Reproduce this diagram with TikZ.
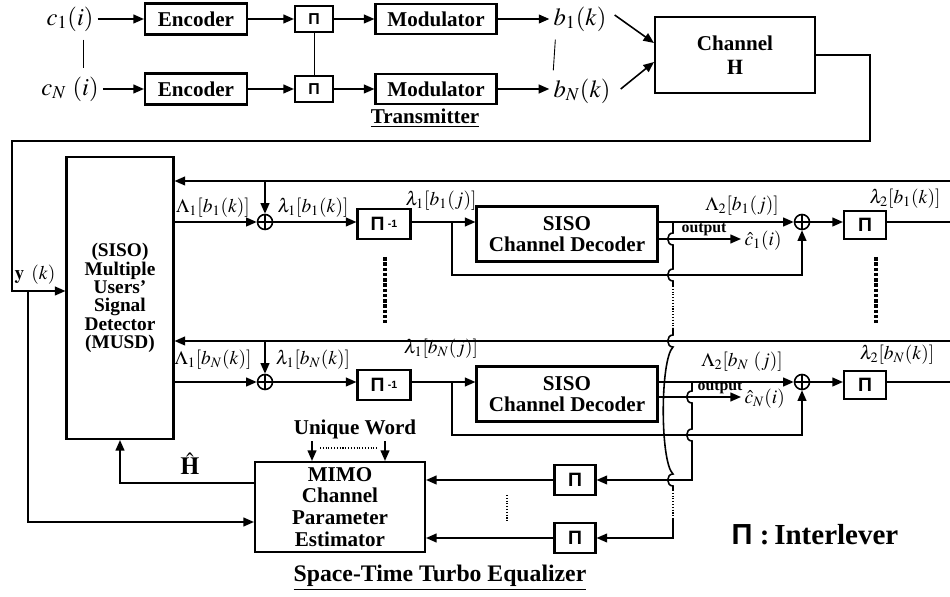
\documentclass[tikz,border=0pt]{standalone}
\usepackage{mathptmx}
\usepackage{fontspec}
\setmainfont{Liberation Serif}
\newfontfamily\pifont{Liberation Sans}
\usepackage{tikz}
\usetikzlibrary{arrows.meta, positioning, calc}

\newcommand{\ilv}{{\pifont\bfseries Π}}
\newcommand{\ilvinv}{{\pifont\bfseries Π}\,\raisebox{2pt}{\pifont\bfseries\fontsize{6}{6}\selectfont -1}}

\begin{document}
\begin{tikzpicture}[
    x=0.02cm, y=-0.02cm, line width=0.9pt,
    >={Triangle[length=6pt,width=5pt]},
    box/.style={draw, line width=1.2pt, align=center, inner sep=1pt,
                font=\fontsize{12}{14}\selectfont\bfseries},
    coderbox/.style={box, minimum width=2.04cm, minimum height=0.62cm},
    modbox/.style={box, minimum width=2.42cm, minimum height=0.6cm},
    tpi/.style={box, minimum width=0.76cm, minimum height=0.52cm, font=\fontsize{9}{9}\selectfont},
    rpi/.style={box, minimum width=0.84cm, minimum height=0.56cm, font=\fontsize{11}{11}\selectfont},
    invbox/.style={box, minimum width=1.06cm, minimum height=0.6cm, font=\fontsize{11}{11}\selectfont},
    decbox/.style={box, minimum width=3.62cm, minimum height=1.1cm, font=\fontsize{12}{12.3}\selectfont\bfseries},
    adder/.style={circle, draw, minimum size=0.3cm, inner sep=0pt,
                  path picture={\draw (path picture bounding box.north) -- (path picture bounding box.south)
                                      (path picture bounding box.west) -- (path picture bounding box.east);}},
    sig/.style={inner sep=2pt, font=\fontsize{14}{16}\selectfont},
    lbl/.style={inner sep=1pt, font=\fontsize{11}{12}\selectfont},
    outlbl/.style={inner sep=0pt, font=\fontsize{9}{9}\selectfont\bfseries},
    title/.style={inner sep=1pt, font=\fontsize{12}{14}\selectfont\bfseries},
    dots/.style={densely dotted, line width=2pt},
    thindots/.style={densely dotted, line width=0.6pt}
]
    \useasboundingbox (0,0) rectangle (950,597);

    % transmitter
    \node[sig] (c1) at (70,19) {$c_1(i)$};
    \node[sig] (cN) at (70,89) {$c_N\ (i)$};
    \node[coderbox] (enc1) at (196,19) {Encoder};
    \node[coderbox] (encN) at (196,89) {Encoder};
    \node[tpi] (pi1) at (314,19) {\ilv};
    \node[tpi] (piN) at (314,89) {\ilv};
    \node[modbox] (mod1) at (436,19) {Modulator};
    \node[modbox] (modN) at (436,89) {Modulator};
    \node[sig] (b1) at (580,19) {$b_1(k)$};
    \node[sig] (bN) at (582,91) {$b_N(k)$};
    \node[box, minimum width=3.2cm, minimum height=1.52cm, font=\fontsize{12}{14}\selectfont\bfseries] (chan) at (735,55) {Channel\\ $\mathbf{H}$};
    \node[title] (tx) at (425,118) {\underline{Transmitter}};

    \draw[->] (c1) -- (enc1);
    \draw[->] (cN) -- (encN);
    \draw[->] (enc1) -- (pi1);
    \draw[->] (encN) -- (piN);
    \draw[->] (pi1) -- (mod1);
    \draw[->] (piN) -- (modN);
    \draw[->] (mod1) -- (b1);
    \draw[->] (modN) -- (modN -| bN.west);
    \draw[line width=0.5pt] ($(c1.south)+(13,4)$) -- ($(cN.north)+(13,-4)$);
    \draw[line width=0.5pt] (pi1.south) -- (piN.north);
    \draw[line width=0.5pt] ($(b1.south west)+(6,4)$) -- ($(bN.north west)+(4,-4)$);
    \draw[->] ($(b1.east)+(4,-4)$) -- ($(chan.west)+(0,-12)$);
    \draw[->] ($(bN.east)+(6,-2)$) -- ($(chan.west)+(0,7)$);

    % received signal
    \coordinate (yk) at (12,291);
    \coordinate (ysplit) at (28,291);
    \node[box, minimum width=2.14cm, minimum height=5.64cm, font=\fontsize{11}{10.4}\selectfont\bfseries] (musd) at (120,298)
        {(SISO)\\Multiple\\Users'\\Signal\\Detector\\(MUSD)};
    \node[lbl] (ylab) at (35,275) {$\mathbf{y}\ \,(k)$};
    \draw[->] (chan.east) -| (870,141) -| (yk) -- (yk -| musd.west);

    % user 1
    \coordinate (fb1) at (958,181);
    \node[adder] (add1) at (265,222) {};
    \node[invbox] (pinv1) at (384,224) {\ilvinv};
    \node[decbox] (dec1) at (567,234) {SISO\\Channel Decoder};
    \node[adder] (add2) at (802,222) {};
    \node[rpi] (pi2) at (865,225) {\ilv};
    \coordinate (br1) at (452,222);
    \coordinate (o1) at (741,239);
    \node[lbl, anchor=west] (chat1) at (742,241) {$\hat{c}_1(i)$};
    \node[lbl] at (213,208) {$\Lambda_1[b_1(k)]$};
    \node[lbl] at (313,208) {$\lambda_1[b_1(k)]$};
    \node[lbl] at (441,201) {$\lambda_1[b_1(j)]$};
    \node[lbl] at (742,206) {$\Lambda_2[b_1(j)]$};
    \node[lbl] at (905,199) {$\lambda_2[b_1(k)]$};
    \node[outlbl] at (704,230) {output};

    \draw[->] (musd.east |- add1) -- (add1.west);
    \draw[->] (add1 |- fb1) -- (add1.north);
    \draw[->] (add1.east) -- (add1.east -| pinv1.west);
    \draw[->] (add1.east -| pinv1.east) -- (add1.east -| dec1.west);
    \draw[->] (br1) -- ++(0,53) -| (add2.south);
    \draw[->] (dec1.east |- add2) -- (add2.west);
    \draw[->] (dec1.east |- o1) -- (o1);
    \draw[->] (add2.east) -- (add2.east -| pi2.west);
    \draw[->] (add2.east -| pi2.east) -| (fb1) -- (fb1 -| musd.east);

    % user N
    \coordinate (fbN) at (958,341);
    \node[adder] (add3) at (265,382) {};
    \node[invbox] (pinvN) at (384,385) {\ilvinv};
    \node[decbox] (decN) at (567,394) {SISO\\Channel Decoder};
    \node[adder] (add4) at (802,382) {};
    \node[rpi] (pi4) at (865,385) {\ilv};
    \coordinate (brN) at (452,382);
    \coordinate (oN) at (741,397);
    \node[lbl, anchor=west] (chatN) at (742,399) {$\hat{c}_N(i)$};
    \node[lbl] at (213,360) {$\Lambda_1[b_N(k)]$};
    \node[lbl] at (313,360) {$\lambda_1[b_N(k)]$};
    \node[lbl] at (441,349) {$\lambda_1[b_N(j)]$};
    \node[lbl] at (742,362) {$\Lambda_2[b_N\ (j)]$};
    \node[lbl] at (897,355) {$\lambda_2[b_N(k)]$};
    \node[outlbl] at (720,388) {output};

    \draw[->] (musd.east |- add3) -- (add3.west);
    \draw[->] (add3 |- fbN) -- (add3.north);
    \draw[->] (add3.east) -- (add3.east -| pinvN.west);
    \draw[->] (add3.east -| pinvN.east) -- (add3.east -| decN.west);
    \draw[->] (brN) -- ++(0,53) -| (add4.south);
    \draw[->] (decN.east |- add4) -- (add4.west);
    \draw[->] (decN.east |- oN) -- (oN);
    \draw[->] (add4.east) -- (add4.east -| pi4.west);
    \draw[->] (add4.east -| pi4.east) -| (fbN) -- (fbN -| musd.east);

    \draw[dots] (385,257) -- (385,323);
    \draw[dots] (876,257) -- (876,323);

    % channel estimation
    \node[box, minimum width=3.4cm, minimum height=1.8cm, font=\fontsize{12}{12.4}\selectfont\bfseries] (mimo) at (340,507)
        {MIMO\\Channel\\Parameter\\Estimator};
    \node[rpi, minimum width=0.82cm, minimum height=0.6cm] (piB1) at (575,480) {\ilv};
    \node[rpi, minimum width=0.82cm, minimum height=0.6cm] (piB2) at (575,538) {\ilv};
    \node[title] (uw) at (355,429) {Unique Word};
    \node[inner sep=1pt, font=\fontsize{14}{14}\selectfont] (hhat) at (190,464) {$\hat{\mathbf{H}}$};
    \coordinate (tapA) at (673,222);
    \coordinate (tapB) at (692,382);

    \draw[->] (uw.south -| 312,0) -- (mimo.north -| 312,0);
    \draw[->] (uw.south -| 385,0) -- (mimo.north -| 385,0);
    \draw[thindots] (320,448) -- (377,448);
    \draw[->] ($(mimo.west)+(0,-24)$) -| (musd.south);
    \draw[->] (ysplit) |- ($(mimo.west)+(0,15)$);
    \draw[->] (piB1.west) -- (piB1.west -| mimo.east);
    \draw[->] (piB2.west) -- (piB2.west -| mimo.east);
    \draw[thindots] (507,495) -- (507,522);

    % feedback to the estimator, hopping over crossing lines
    \draw (tapA) -- (673,233) .. controls (666,233) and (666,245) .. (673,245)
        -- (673,269) .. controls (666,269) and (666,281) .. (673,281) -- (673,286);
    \draw[thindots] (673,286) -- (673,328);
    \draw (673,328) -- (673,335) .. controls (666,335) and (666,347) .. (673,347)
        .. controls (660,360) and (660,462) .. (673,474)
        .. controls (666,474) and (666,486) .. (673,486) -- (673,490);
    \draw[thindots] (673,490) -- (673,518);
    \draw[->] (673,518) |- (piB2.east);
    \draw[->] (tapB) -- (692,391) .. controls (685,391) and (685,403) .. (692,403)
        -- (692,429) .. controls (685,429) and (685,441) .. (692,441) |- (piB1.east);

    \node[inner sep=1pt, font=\fontsize{16.5}{18}\selectfont\bfseries] (legend) at (815,535) {{\pifont Π} :\,Interlever};
    \node[inner sep=1pt, font=\fontsize{13.5}{15}\selectfont\bfseries] (rx) at (440,578) {\underline{Space-Time Turbo Equalizer}};
\end{tikzpicture}
\end{document}
